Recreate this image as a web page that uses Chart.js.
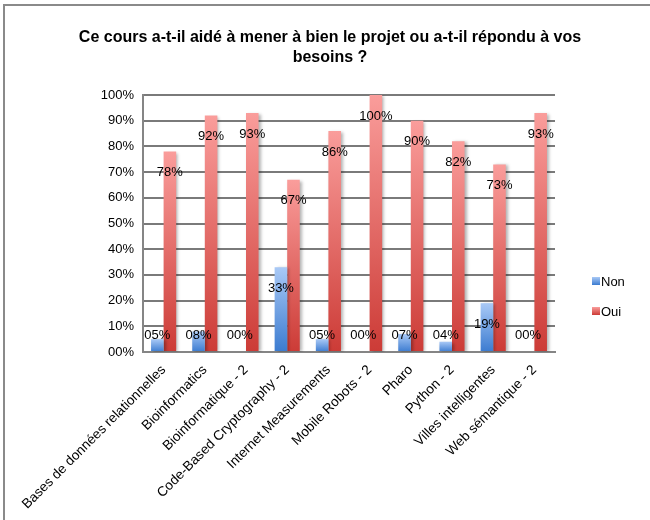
<!DOCTYPE html>
<html>
<head>
<meta charset="utf-8">
<script src="https://cdn.jsdelivr.net/npm/chart.js@4"></script>
<style>
    body { margin: 0; background: #fff; }
    #wrap { width: 650px; height: 520px; }
</style>
</head>
<body>
<div id="wrap"><canvas id="surveyChart" width="650" height="520"></canvas></div>
<script>
// Chart data
const titleLines = ['Ce cours a-t-il aidé à mener à bien le projet ou a-t-il répondu à vos', 'besoins ?'];
const courses = [
    'Bases de données relationnelles',
    'Bioinformatics',
    'Bioinformatique - 2',
    'Code-Based Cryptography - 2',
    'Internet Measurements',
    'Mobile Robots - 2',
    'Pharo',
    'Python - 2',
    'Villes intelligentes',
    'Web sémantique - 2'
];
const nonValues = [5, 8, 0, 33, 5, 0, 7, 4, 19, 0];
const ouiValues = [78, 92, 93, 67, 86, 100, 90, 82, 73, 93];
const seriesNames = ['Non', 'Oui'];

const FONT = "'Liberation Sans', Arial, sans-serif";

function pct(v) {
    return String(v).padStart(2, '0') + '%';
}

// vertical gradient per bar, from its top down to the zero line
function barGradient(light, dark) {
    return function (context) {
        const chart = context.chart;
        const yScale = chart.scales.y;
        if (!yScale || context.raw === undefined) return dark;
        const top = yScale.getPixelForValue(context.raw);
        const base = yScale.getPixelForValue(0);
        if (!isFinite(top) || base - top < 1) return dark;
        const g = chart.ctx.createLinearGradient(0, top, 0, base);
        g.addColorStop(0, light);
        g.addColorStop(1, dark);
        return g;
    };
}

const nonLight = '#a9c9f6', nonDark = '#3b7bd0';
const ouiLight = '#fa9d9b', ouiDark = '#cc3b36';

// frame, title and legend drawn around the plot
const decorPlugin = {
    id: 'decor',
    beforeDraw(chart) {
        const ctx = chart.ctx;
        ctx.save();
        ctx.strokeStyle = '#8a8a8a';
        ctx.lineWidth = 2;
        ctx.beginPath();
        ctx.moveTo(4, 530);
        ctx.lineTo(4, 5);
        ctx.lineTo(660, 5);
        ctx.stroke();
        ctx.restore();
    },
    afterDraw(chart) {
        const ctx = chart.ctx;
        ctx.save();
        ctx.fillStyle = '#000';
        ctx.font = 'bold 16px ' + FONT;
        ctx.textAlign = 'center';
        ctx.textBaseline = 'middle';
        titleLines.forEach((line, i) => ctx.fillText(line, 330, 38 + i * 20));

        // legend
        ctx.font = '13px ' + FONT;
        ctx.textAlign = 'left';
        const swatches = [[nonLight, nonDark], [ouiLight, ouiDark]];
        seriesNames.forEach((name, i) => {
            const y = 281 + i * 30;
            const g = ctx.createLinearGradient(0, y - 4, 0, y + 4);
            g.addColorStop(0, swatches[i][0]);
            g.addColorStop(1, swatches[i][1]);
            ctx.fillStyle = g;
            ctx.fillRect(592, y - 4, 8, 8);
            ctx.fillStyle = '#000';
            ctx.fillText(name, 601, y + 1);
        });
        ctx.restore();
    }
};

// soft shadow behind the bars
const shadowPlugin = {
    id: 'shadows',
    beforeDatasetsDraw(chart) {
        const ctx = chart.ctx;
        ctx.save();
        ctx.shadowColor = 'rgba(0,0,0,0.3)';
        ctx.shadowBlur = 3;
        ctx.shadowOffsetX = 2;
        ctx.shadowOffsetY = 1;
    },
    afterDatasetsDraw(chart) {
        chart.ctx.restore();
    }
};

// value labels: inside the bar near its top, kept above the axis
const valueLabels = {
    id: 'valueLabels',
    afterDatasetsDraw(chart) {
        const ctx = chart.ctx;
        const base = chart.scales.y.getPixelForValue(0);
        ctx.save();
        ctx.font = '13px ' + FONT;
        ctx.fillStyle = '#000';
        ctx.textAlign = 'center';
        ctx.textBaseline = 'middle';
        chart.data.datasets.forEach((ds, di) => {
            const meta = chart.getDatasetMeta(di);
            meta.data.forEach((bar, i) => {
                const y = Math.min(bar.y + 21, base - 17);
                ctx.fillText(pct(ds.data[i]), bar.x, y);
            });
        });
        ctx.restore();
    }
};

const ctx = document.getElementById('surveyChart').getContext('2d');
new Chart(ctx, {
    type: 'bar',
    data: {
        labels: courses,
        datasets: [
            {
                label: seriesNames[0],
                data: nonValues,
                backgroundColor: barGradient(nonLight, nonDark),
                borderWidth: 0
            },
            {
                label: seriesNames[1],
                data: ouiValues,
                backgroundColor: barGradient(ouiLight, ouiDark),
                borderWidth: 0
            }
        ]
    },
    options: {
        responsive: false,
        animation: false,
        layout: {
            padding: { top: 95, right: 95, left: 0, bottom: 0 }
        },
        datasets: {
            bar: { categoryPercentage: 0.61, barPercentage: 1.0 }
        },
        plugins: {
            legend: { display: false },
            title: { display: false },
            tooltip: { enabled: false }
        },
        scales: {
            x: {
                grid: { display: false, drawTicks: false },
                border: { display: true, color: '#858585', width: 2 },
                ticks: {
                    color: '#000',
                    font: { family: FONT, size: 13.6 },
                    minRotation: 45,
                    maxRotation: 45,
                    autoSkip: false,
                    padding: 10
                },
                afterFit(scale) { scale.height = 168; }
            },
            y: {
                min: 0,
                max: 100,
                grid: { color: '#7a7a7a', lineWidth: 2, drawTicks: false },
                border: { display: true, color: '#858585', width: 2 },
                ticks: {
                    stepSize: 10,
                    color: '#000',
                    font: { family: FONT, size: 13 },
                    padding: 9,
                    callback: (v) => pct(v)
                },
                afterFit(scale) { scale.width = 143; }
            }
        }
    },
    plugins: [decorPlugin, shadowPlugin, valueLabels]
});
</script>
</body>
</html>
